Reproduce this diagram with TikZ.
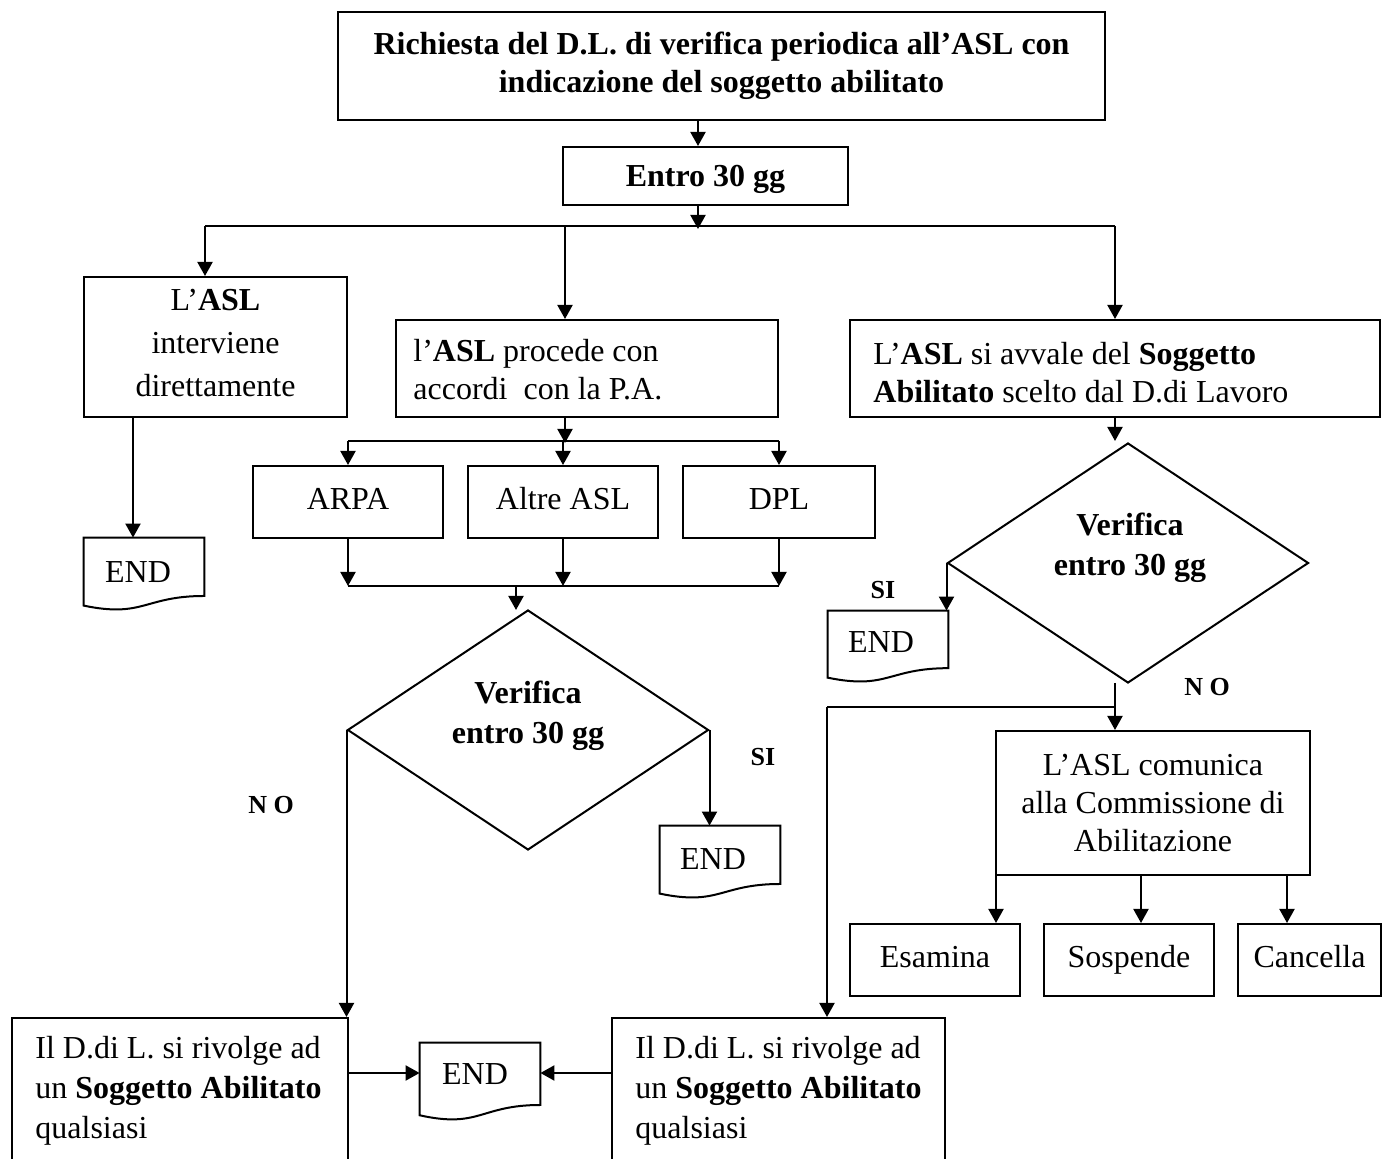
\documentclass[tikz,border=0pt]{standalone}
\usepackage{fontspec}
\setmainfont{Liberation Serif}
\usetikzlibrary{shapes.geometric,arrows.meta,calc}
\newcommand\docpath[1]{\draw[line width=1pt] (#1.north west) -- (#1.north east) -- ($(#1.north east)!0.802!(#1.south east)$) .. controls ($(#1.north)!0.802!(#1.south)$) and ($(#1.north)!1.107!(#1.south)$) .. ($(#1.north west)!0.934!(#1.south west)$) -- cycle;}
\begin{document}
\begin{tikzpicture}[x=0.5pt,y=-0.5pt,
  every node/.style={font=\fontsize{16}{19}\selectfont, inner sep=0pt},
  box/.style={draw, line width=1pt, rectangle, align=center},
  one/.style={text height=11pt, text depth=3pt},
  bf/.style={font=\fontsize{16}{19}\selectfont\bfseries, align=center},
  wide/.style={font=\fontsize{16}{20}\selectfont},
  dia/.style={draw, line width=1pt, diamond},
  doc/.style={rectangle, minimum width=60pt},
  arr/.style={line width=1pt, -{Triangle[length=7pt,width=7.5pt]}},
  ln/.style={line width=1pt},
  lbl/.style={font=\fontsize{13}{15}\selectfont\bfseries},
  txt/.style={align=left, anchor=west}]
\path[use as bounding box] (0,0) rectangle (1383,1159);
\clip (0,0) rectangle (1383,1159);

% top
\node[box, bf, minimum width=383.5pt, minimum height=54pt] (title) at (721.5,66) {Richiesta del D.L. di verifica periodica all’ASL con\\indicazione del soggetto abilitato};
\node[box, bf, text height=11pt, text depth=0pt, minimum width=142.5pt, minimum height=29pt] (entro) at (705.5,176) {Entro 30 gg};

% second row
\node[box, minimum width=131.5pt, minimum height=70pt] (asl1) at (215.5,347) {};
\node[align=center, font=\fontsize{16}{21.5}\selectfont] (asl1t) at (215.5,343) {L’\textbf{ASL}\\interviene\\direttamente};
\node[box, minimum width=191pt, minimum height=48.5pt] (mid) at (587,368.5) {};
\node[txt] (midt) at (413,370) {l’\textbf{ASL} procede con\\accordi\ \ con la P.A.};
\node[box, minimum width=265pt, minimum height=48.5pt] (rgt) at (1115,368.5) {};
\node[txt] (rgtt) at (873,373) {L’\textbf{ASL} si avvale del \textbf{Soggetto}\\\textbf{Abilitato} scelto dal D.di Lavoro};

% P.A. options
\node[box, one, minimum width=95pt, minimum height=36pt] (arpa) at (348,502) {ARPA};
\node[box, one, minimum width=95pt, minimum height=36pt] (altre) at (563,502) {Altre ASL};
\node[box, one, minimum width=96pt, minimum height=36pt] (dpl) at (779,502) {DPL};

% END shapes
\node[doc, minimum height=36pt] (e1) at (144,574) {};
\node[doc, minimum height=36pt] (e2) at (720,862) {};
\node[doc, minimum height=38.5pt] (em) at (480,1081.5) {};
\node[doc, minimum height=35.5pt] (e3) at (888,646.5) {};
\docpath{e1}
\docpath{e2}
\docpath{em}
\docpath{e3}
\node[one] (e1t) at ($(e1)+(-6,1)$) {END};
\node[one] (e2t) at ($(e2)+(-7,0)$) {END};
\node[one] (emt) at ($(em)+(-5,-5)$) {END};
\node[one] (e3t) at ($(e3)+(-7,-2)$) {END};

% diamonds
\node[dia, minimum width=180.5pt, minimum height=120pt] (d1) at (528,730) {};
\node[bf, font=\fontsize{16}{20}\selectfont\bfseries] (d1t) at (528,716) {Verifica\\entro 30 gg};
\node[dia, minimum width=180.5pt, minimum height=120pt] (d2) at (1128,563) {};
\node[bf, font=\fontsize{16}{20}\selectfont\bfseries] (d2t) at (1130,548) {Verifica\\entro 30 gg};

% bottom boxes
\node[box, minimum width=168pt, minimum height=72pt] (bl) at (180,1090) {};
\node[txt, wide] (blt) at (35,1091) {Il D.di L. si rivolge ad\\un \textbf{Soggetto Abilitato}\\qualsiasi};
\node[box, minimum width=166.5pt, minimum height=72pt] (br) at (778.5,1090) {};
\node[txt, wide] (brt) at (635,1091) {Il D.di L. si rivolge ad\\un \textbf{Soggetto Abilitato}\\qualsiasi};

% commission
\node[box, minimum width=157pt, minimum height=72pt] (com) at (1153,803) {L’ASL comunica\\alla Commissione di\\Abilitazione};
\node[box, one, minimum width=85pt, minimum height=36pt] (esa) at (935,960) {Esamina};
\node[box, one, minimum width=85pt, minimum height=36pt] (sos) at (1129,960) {Sospende};
\node[box, one, minimum width=71.5pt, minimum height=36pt] (can) at (1309.5,960) {Cancella};

% labels
\node[lbl] (si1) at (763,757) {SI};
\node[lbl] (si2) at (883,590) {SI};
\node[lbl] (no1) at (271,805) {N O};
\node[lbl] (no2) at (1207,687) {N O};

% connectors top
\coordinate (ax) at (698,0);
\coordinate (jt) at (698,229);
\coordinate (jl) at (205,226);
\coordinate (jm) at (565,226);
\coordinate (jr) at (1115,226);
\draw[arr] (title.south -| ax) -- (entro.north -| ax);
\draw[arr] (entro.south -| ax) -- (jt);
\draw[ln] (jl) -- (jr);
\draw[arr] (jl) -- (jl |- asl1.north);
\draw[arr] (jm) -- (jm |- mid.north);
\draw[arr] (jr) -- (rgt.north);

% left column
\coordinate (c133) at (133,0);
\draw[arr] (asl1.south -| c133) -- (e1.north -| c133);

% middle column
\coordinate (kt) at (565,443);
\coordinate (kl) at (348,441);
\coordinate (kr) at (779,441);
\draw[arr] (jm |- mid.south) -- (kt);
\draw[ln] (kl) -- (kr);
\draw[arr] (kl) -- (arpa.north);
\draw[arr] (altre.north |- kl) -- (altre.north);
\draw[arr] (kr) -- (dpl.north);
\coordinate (ll) at (348,586);
\coordinate (lr) at (779,586);
\coordinate (ld) at (516,586);
\coordinate (ldt) at (516,610);
\draw[ln] (ll) -- (lr);
\draw[arr] (arpa.south) -- (ll);
\draw[arr] (altre.south) -- (altre.south |- ll);
\draw[arr] (dpl.south) -- (lr);
\draw[arr] (ld) -- (ldt);
\draw[arr] (d1.west) -- (d1.west |- bl.north);
\draw[arr] (d1.east) -- (d1.east |- e2.north);
\coordinate (ym) at (0,1073);
\draw[arr] (bl.east |- ym) -- (em.west |- ym);
\draw[arr] (br.west |- ym) -- (em.east |- ym);

% right column
\coordinate (rt) at (1115,441);
\draw[arr] (rgt.south) -- (rt);
\draw[arr] (d2.west) -- (d2.west |- e3.north);
\coordinate (dv) at (1115,683);
\coordinate (dh) at (1115,707);
\coordinate (dl) at (827,707);
\draw[ln] (dv) -- (dh);
\draw[arr] (dh) -- (dh |- com.north);
\draw[ln] (dh) -- (dl);
\draw[arr] (dl) -- (dl |- br.north);
\coordinate (cx1) at (996,0);
\coordinate (cx2) at (1141,0);
\coordinate (cx3) at (1287,0);
\draw[arr] (com.south -| cx1) -- (esa.north -| cx1);
\draw[arr] (com.south -| cx2) -- (sos.north -| cx2);
\draw[arr] (com.south -| cx3) -- (can.north -| cx3);
\end{tikzpicture}
\end{document}
